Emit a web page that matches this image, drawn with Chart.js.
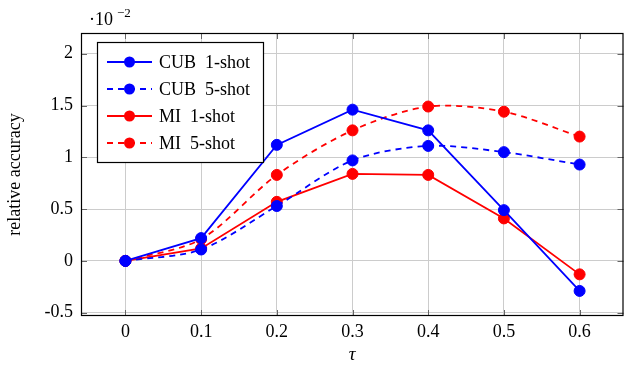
<!DOCTYPE html>
<html>
<head>
<meta charset="utf-8">
<script src="https://cdn.jsdelivr.net/npm/chart.js@4/dist/chart.umd.min.js"></script>
<style>
  html, body { margin: 0; padding: 0; background: #fff; overflow: hidden; }
  #wrap { width: 630px; height: 367px; }
</style>
</head>
<body>
<div id="wrap"><canvas id="chart" width="630" height="367"></canvas></div>
<script>
// Data (values in units of 10^-2)
const tau = [0, 0.1, 0.2, 0.3, 0.4, 0.5, 0.6];
const cub1 = [0, 0.22, 1.12, 1.46, 1.26, 0.49, -0.29];
const cub5 = [0, 0.11, 0.53, 0.97, 1.11, 1.05, 0.93];
const mi1 = [0, 0.12, 0.57, 0.84, 0.83, 0.41, -0.13];
const mi5 = [0, 0.21, 0.83, 1.26, 1.49, 1.44, 1.20];
const xTicks = [0, 0.1, 0.2, 0.3, 0.4, 0.5, 0.6];
const yTicks = [-0.5, 0, 0.5, 1, 1.5, 2];

const FONT = "'Liberation Serif', 'Times New Roman', serif";
const BLUE = '#0000ff';
const RED = '#ff0000';

function pts(ys) {
    return tau.map((x, i) => ({ x: x, y: ys[i] }));
}

function series(label, ys, color, dashed) {
    return {
        label: label,
        data: pts(ys),
        borderColor: color,
        backgroundColor: color,
        borderWidth: 1.8,
        borderDash: dashed ? [6, 5] : [],
        tension: dashed ? 0.3 : 0,
        pointRadius: 5.5,
        pointHoverRadius: 5.5,
        pointBorderWidth: 1,
        fill: false
    };
}

// frame, inner tick marks, exponent label and line+marker legend
const decorPlugin = {
    id: 'decor',
    afterDraw(chart) {
        const ctx = chart.ctx;
        const a = chart.chartArea;
        const xs = chart.scales.x, ys = chart.scales.y;
        ctx.save();
        ctx.strokeStyle = '#666';
        ctx.lineWidth = 1;
        ctx.beginPath();
        xTicks.forEach(v => {
            const px = Math.round(xs.getPixelForValue(v)) + 0.5;
            ctx.moveTo(px, a.bottom); ctx.lineTo(px, a.bottom - 6);
            ctx.moveTo(px, a.top); ctx.lineTo(px, a.top + 6);
        });
        yTicks.forEach(v => {
            const py = Math.round(ys.getPixelForValue(v)) + 0.5;
            ctx.moveTo(a.left, py); ctx.lineTo(a.left + 6, py);
            ctx.moveTo(a.right, py); ctx.lineTo(a.right - 6, py);
        });
        ctx.stroke();
        ctx.strokeStyle = '#000';
        ctx.lineWidth = 1.2;
        ctx.strokeRect(a.left + 0.5, a.top + 0.5, a.right - a.left - 1, a.bottom - a.top - 1);

        // exponent
        ctx.fillStyle = '#000';
        ctx.font = '18px ' + FONT;
        ctx.textBaseline = 'alphabetic';
        ctx.textAlign = 'left';
        ctx.fillText('\u00b710', 89, 25);
        ctx.font = '13px ' + FONT;
        ctx.fillText('\u22122', 117, 17);

        // legend
        const lx = 97, ly = 42, lw = 166, lh = 120;
        ctx.fillStyle = '#fff';
        ctx.fillRect(lx, ly, lw, lh);
        ctx.strokeStyle = '#000';
        ctx.lineWidth = 1.2;
        ctx.strokeRect(lx + 0.5, ly + 0.5, lw, lh);
        chart.data.datasets.forEach((ds, i) => {
            const y = 62 + i * 27;
            ctx.strokeStyle = ds.borderColor;
            ctx.lineWidth = ds.borderWidth;
            ctx.setLineDash(ds.borderDash);
            ctx.beginPath();
            ctx.moveTo(107, y); ctx.lineTo(152, y);
            ctx.stroke();
            ctx.setLineDash([]);
            ctx.fillStyle = ds.backgroundColor;
            ctx.beginPath();
            ctx.arc(129.5, y, 5.5, 0, Math.PI * 2);
            ctx.fill();
            ctx.fillStyle = '#000';
            ctx.font = '18px ' + FONT;
            ctx.textBaseline = 'middle';
            ctx.fillText(ds.label, 159, y + 1);
        });
        ctx.restore();
    }
};

const chart = new Chart(document.getElementById('chart').getContext('2d'), {
    type: 'line',
    data: {
        datasets: [
            series('CUB  1-shot', cub1, BLUE, false),
            series('CUB  5-shot', cub5, BLUE, true),
            series('MI  1-shot', mi1, RED, false),
            series('MI  5-shot', mi5, RED, true)
        ]
    },
    options: {
        responsive: false,
        animation: false,
        layout: { padding: { top: 33, right: 0, left: 0, bottom: 0 } },
        plugins: {
            legend: { display: false },
            tooltip: { enabled: false }
        },
        scales: {
            x: {
                type: 'linear',
                min: -0.0587,
                max: 0.658,
                afterBuildTicks: s => { s.ticks = xTicks.map(v => ({ value: v })); },
                afterFit: s => { s.height = 51; },
                grid: { color: '#cccccc', drawTicks: false },
                border: { display: false },
                ticks: {
                    color: '#000',
                    padding: 5,
                    font: { family: FONT, size: 18 },
                    callback: v => String(v)
                },
                title: {
                    display: true,
                    text: '\u03c4',
                    color: '#000',
                    padding: { top: 0, bottom: 1 },
                    font: { family: FONT, size: 19, style: 'italic' }
                }
            },
            y: {
                type: 'linear',
                min: -0.532,
                max: 2.2,
                afterBuildTicks: s => { s.ticks = yTicks.map(v => ({ value: v })); },
                afterFit: s => { s.width = 81; },
                grid: { color: '#cccccc', drawTicks: false },
                border: { display: false },
                ticks: {
                    color: '#000',
                    padding: 8,
                    font: { family: FONT, size: 18 },
                    callback: v => String(v)
                },
                title: {
                    display: true,
                    text: 'relative accuracy',
                    color: '#000',
                    padding: { top: 4, bottom: 0 },
                    font: { family: FONT, size: 18 }
                }
            }
        }
    },
    plugins: [decorPlugin]
});
</script>
</body>
</html>
